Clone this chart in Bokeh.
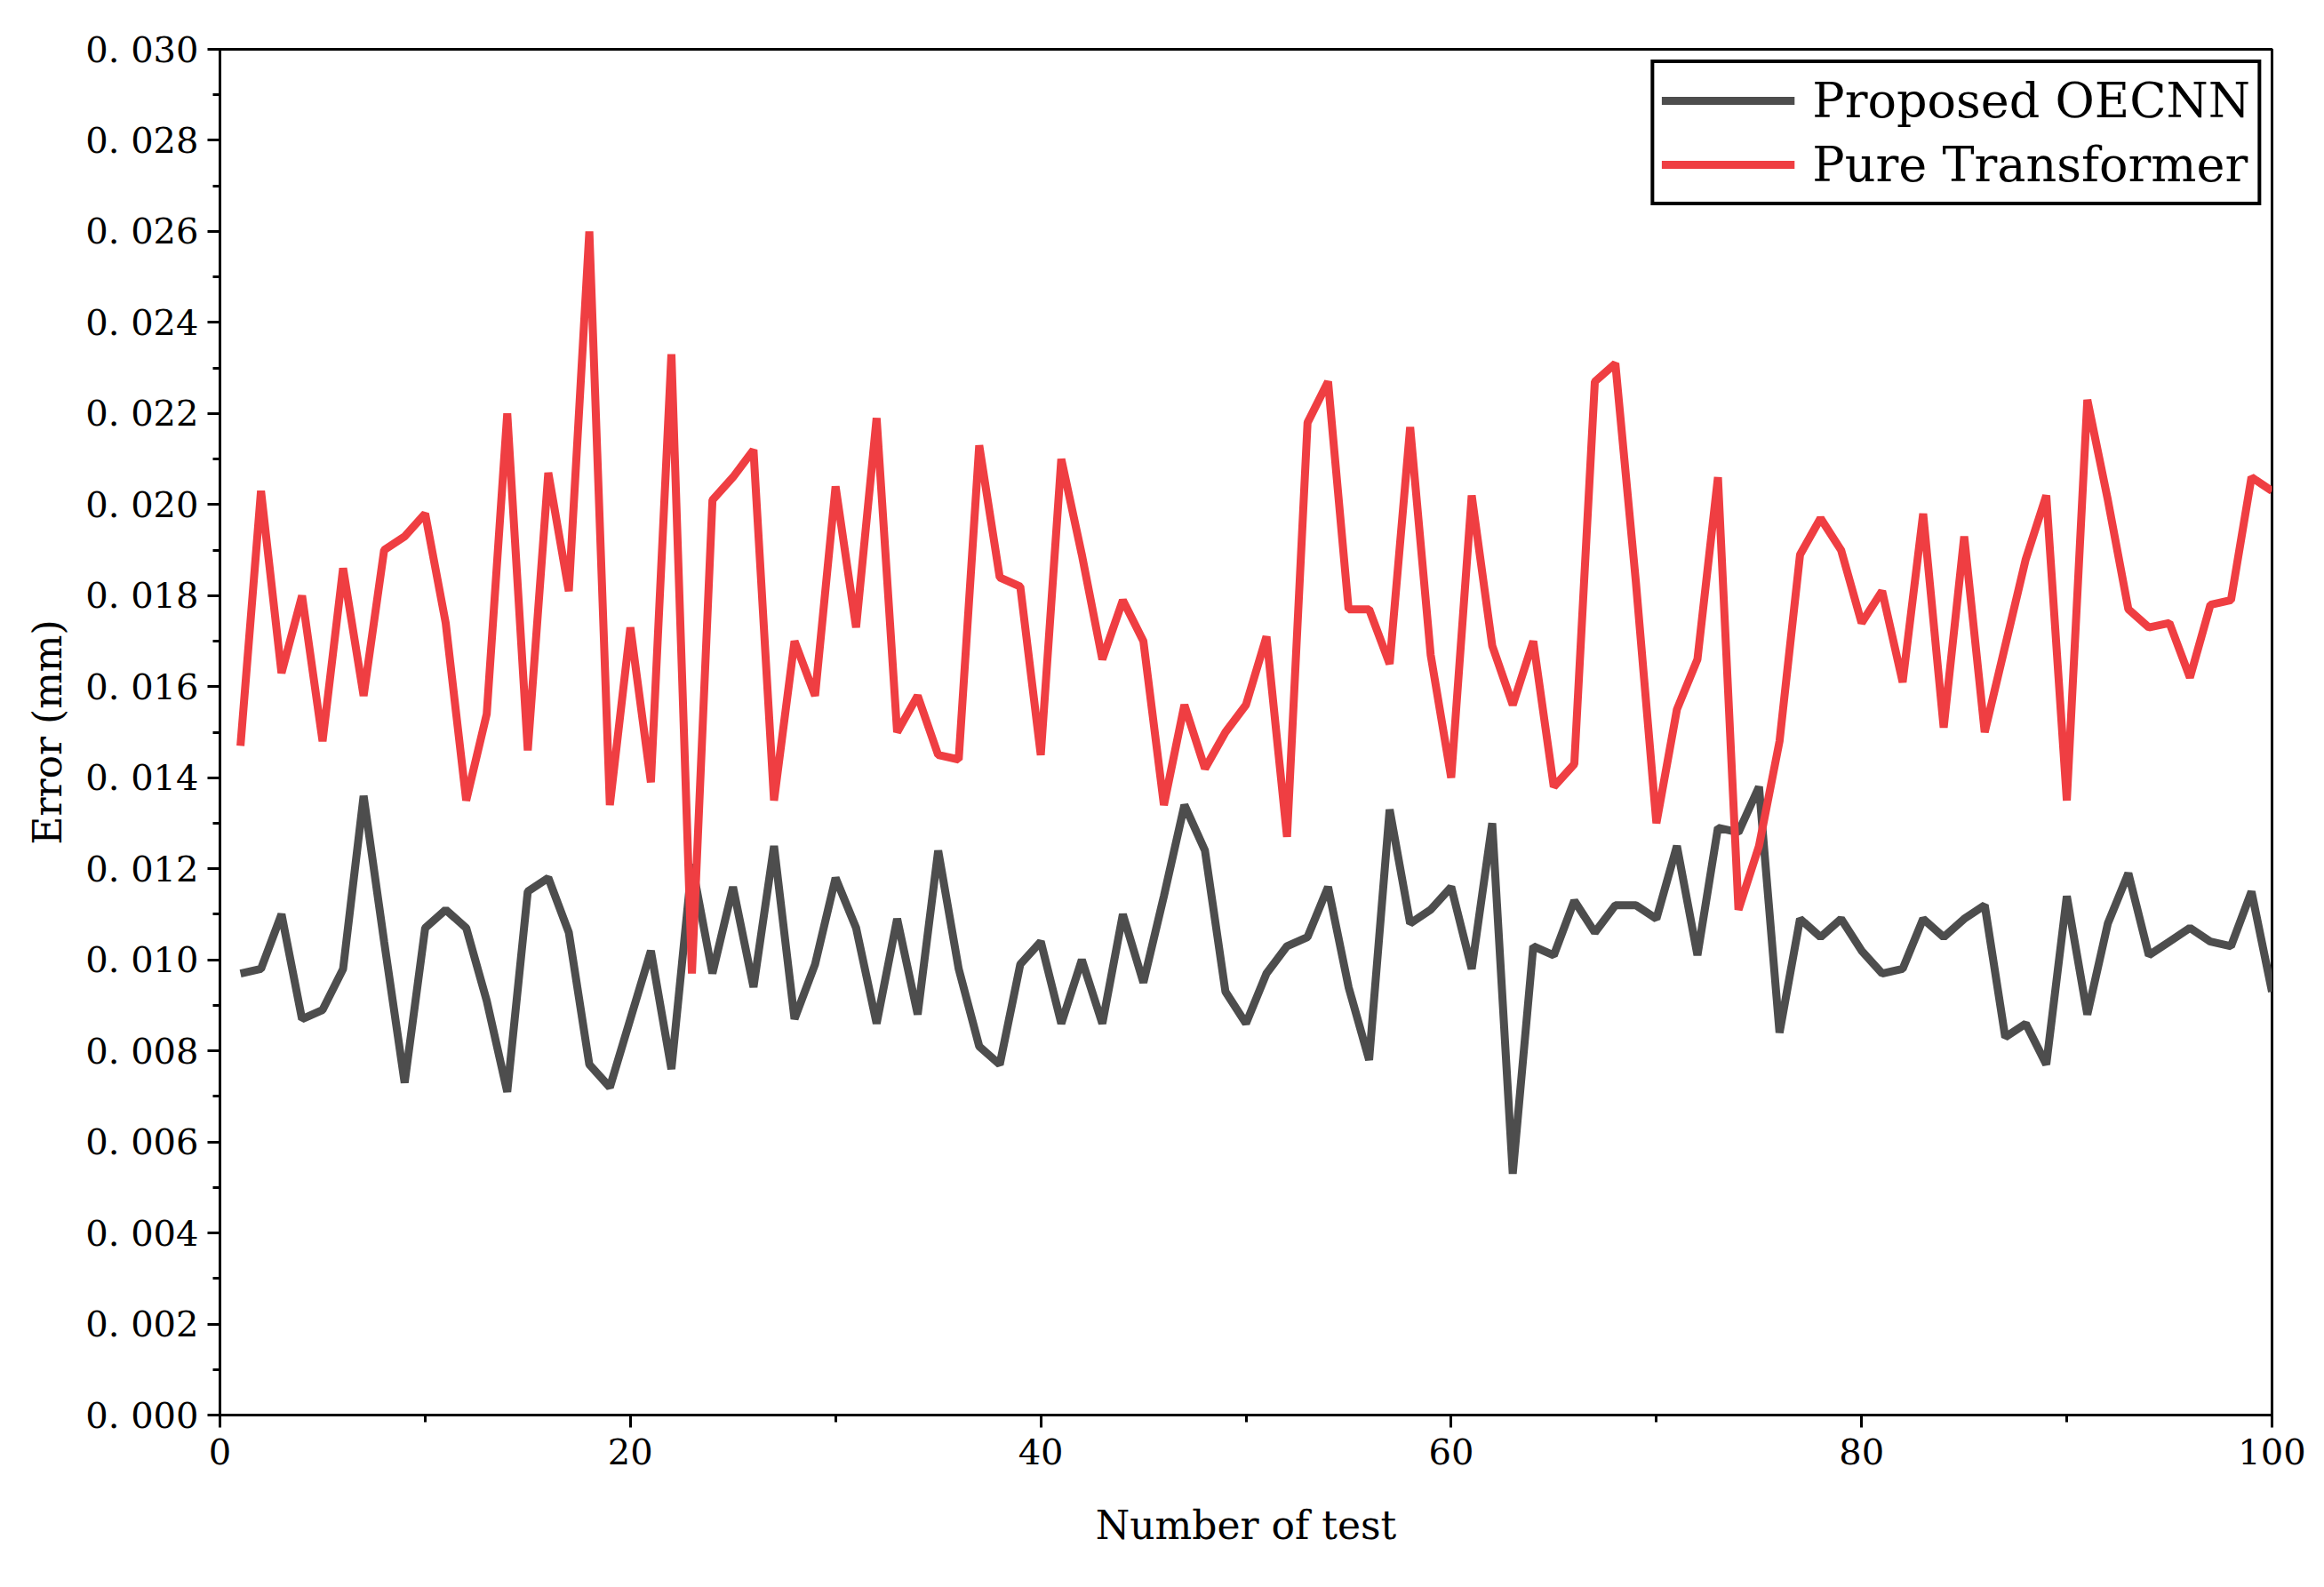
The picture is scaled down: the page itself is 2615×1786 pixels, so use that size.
from bokeh.plotting import figure
from bokeh.models import FixedTicker, Legend, LegendItem, Range1d
from bokeh.embed import file_html
from bokeh.resources import INLINE

tests = list(range(1, 101))
oecnn = [0.0097,0.0098,0.0110,0.0087,0.0089,0.0098,0.0136,0.0104,0.0073,0.0107,
         0.0111,0.0107,0.0091,0.0071,0.0115,0.0118,0.0106,0.0077,0.0072,0.0087,
         0.0102,0.0076,0.0121,0.0097,0.0116,0.0094,0.0125,0.0087,0.0099,0.0118,
         0.0107,0.0086,0.0109,0.0088,0.0124,0.0098,0.0081,0.0077,0.0099,0.0104,
         0.0086,0.0100,0.0086,0.0110,0.0095,0.0114,0.0134,0.0124,0.0093,0.0086,
         0.0097,0.0103,0.0105,0.0116,0.0094,0.0078,0.0133,0.0108,0.0111,0.0116,
         0.0098,0.0130,0.0053,0.0103,0.0101,0.0113,0.0106,0.0112,0.0112,0.0109,
         0.0125,0.0101,0.0129,0.0128,0.0138,0.0084,0.0109,0.0105,0.0109,0.0102,
         0.0097,0.0098,0.0109,0.0105,0.0109,0.0112,0.0083,0.0086,0.0077,0.0114,
         0.0088,0.0108,0.0119,0.0101,0.0104,0.0107,0.0104,0.0103,0.0115,0.0093]
transformer = [0.0147,0.0203,0.0163,0.0180,0.0148,0.0186,0.0158,0.0190,0.0193,0.0198,
               0.0174,0.0135,0.0154,0.0220,0.0146,0.0207,0.0181,0.0260,0.0134,0.0173,
               0.0139,0.0233,0.0097,0.0201,0.0206,0.0212,0.0135,0.0170,0.0158,0.0204,
               0.0173,0.0219,0.0150,0.0158,0.0145,0.0144,0.0213,0.0184,0.0182,0.0145,
               0.0210,0.0189,0.0166,0.0179,0.0170,0.0134,0.0156,0.0142,0.0150,0.0156,
               0.0171,0.0127,0.0218,0.0227,0.0177,0.0177,0.0165,0.0217,0.0167,0.0140,
               0.0202,0.0169,0.0156,0.0170,0.0138,0.0143,0.0227,0.0231,0.0183,0.0130,
               0.0155,0.0166,0.0206,0.0111,0.0125,0.0148,0.0189,0.0197,0.0190,0.0174,
               0.0181,0.0161,0.0198,0.0151,0.0193,0.0150,0.0169,0.0188,0.0202,0.0135,
               0.0223,0.0201,0.0177,0.0173,0.0174,0.0162,0.0178,0.0179,0.0206,0.0203]
x_ticks = [0, 20, 40, 60, 80, 100]
y_ticks = [round(0.002 * i, 3) for i in range(16)]
y_labels = {t: "0. %03d" % round(t * 1000) for t in y_ticks}

FONT = "DejaVu Serif"
p = figure(width=2599, height=1770, output_backend="svg", toolbar_location=None,
           x_range=Range1d(0, 100), y_range=Range1d(0, 0.030),
           min_border_left=247, min_border_right=43, min_border_top=55, min_border_bottom=178)
p.frame_width = 2309
p.frame_height = 1537
p.grid.visible = False
p.outline_line_color = "black"
p.outline_line_width = 3
p.outline_line_alpha = 1
p.background_fill_color = "white"

r1 = p.line(tests, oecnn, line_color="#4d4d4d", line_width=9)
r2 = p.line(tests, transformer, line_color="#ef3e42", line_width=9)

p.xaxis.ticker = FixedTicker(ticks=x_ticks, minor_ticks=list(range(0, 101, 10)))
p.yaxis.ticker = FixedTicker(ticks=y_ticks, minor_ticks=[round(0.001 * i, 3) for i in range(31)])
p.yaxis.major_label_overrides = y_labels
for ax in (p.xaxis[0], p.yaxis[0]):
    ax.axis_line_width = 3
    ax.major_tick_line_width = 3
    ax.minor_tick_line_width = 3
    ax.major_tick_out = 14
    ax.major_tick_in = 0
    ax.minor_tick_out = 8
    ax.minor_tick_in = 0
    ax.major_label_text_font = FONT
    ax.major_label_text_font_size = "40px"
    ax.major_label_text_color = "black"
    ax.axis_label_text_font = FONT
    ax.axis_label_text_font_size = "44px"
    ax.axis_label_text_font_style = "normal"
    ax.axis_label_text_color = "black"
p.xaxis.axis_label = "Number of test"
p.yaxis.axis_label = "Error (mm)"
p.xaxis.major_label_standoff = 12
p.yaxis.major_label_standoff = 10
p.xaxis.axis_label_standoff = 40
p.yaxis.axis_label_standoff = 14

legend = Legend(items=[LegendItem(label="Proposed OECNN", renderers=[r1]),
                       LegendItem(label="Pure Transformer", renderers=[r2])],
                location="top_right")
legend.label_text_font = FONT
legend.label_text_font_size = "54px"
legend.label_text_color = "black"
legend.border_line_color = "black"
legend.border_line_alpha = 1
legend.border_line_width = 4
legend.glyph_width = 150
legend.glyph_height = 68
legend.spacing = 4
legend.padding = 8
legend.margin = 12
legend.label_standoff = 20
p.add_layout(legend)

open("out.html", "w").write(file_html(p, INLINE))
